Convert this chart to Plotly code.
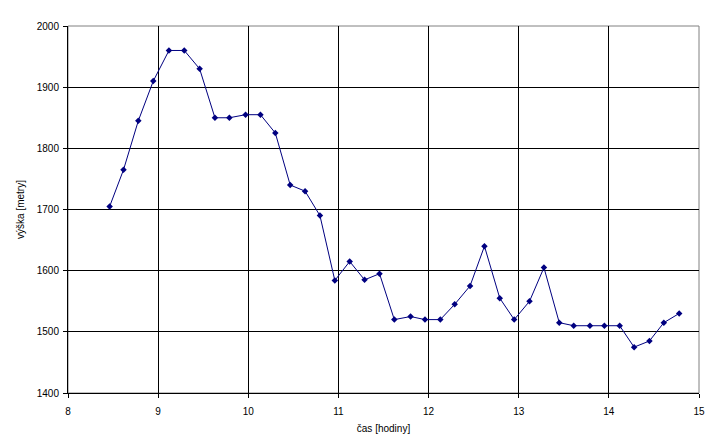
import plotly.graph_objects as go

cas = [8.462, 8.616, 8.78, 8.946, 9.12, 9.29, 9.46, 9.63, 9.79, 9.97,
       10.135, 10.3, 10.465, 10.63, 10.795, 10.96, 11.125, 11.29, 11.456, 11.62,
       11.8, 11.96, 12.13, 12.29, 12.46, 12.62, 12.79, 12.95, 13.12, 13.28,
       13.45, 13.61, 13.79, 13.95, 14.12, 14.28, 14.45, 14.61, 14.78]
vyska = [1705, 1765, 1845, 1910, 1960, 1960, 1930, 1850, 1850, 1855,
         1855, 1825, 1740, 1730, 1690, 1584, 1615, 1585, 1595, 1520,
         1525, 1520, 1520, 1545, 1575, 1640, 1555, 1520, 1550, 1605,
         1515, 1510, 1510, 1510, 1510, 1475, 1485, 1515, 1530]
x_ticks = [8, 9, 10, 11, 12, 13, 14, 15]
y_ticks = [1400, 1500, 1600, 1700, 1800, 1900, 2000]

fig = go.Figure()
fig.add_trace(go.Scatter(
    x=cas, y=vyska, mode="lines+markers",
    line=dict(color="#000080", width=1),
    marker=dict(symbol="diamond", size=5, color="#000080"),
    showlegend=False,
))

fig.update_layout(
    width=709, height=438,
    margin=dict(l=55, r=18, t=13, b=53),
    paper_bgcolor="white", plot_bgcolor="white",
    font=dict(family="Liberation Sans, Arial, sans-serif", size=10, color="black"),
    shapes=[dict(type="rect", xref="paper", yref="paper", x0=0, y0=0, x1=1, y1=1,
                 line=dict(color="#808080", width=1), layer="below")],
)
fig.update_xaxes(
    range=[8, 15], tickvals=x_ticks, ticktext=[str(t) for t in x_ticks],
    showgrid=True, gridcolor="black", gridwidth=1,
    showline=True, linecolor="black", linewidth=1,
    ticks="outside", ticklen=4, tickcolor="black",
    ticklabelstandoff=5,
    zeroline=False, automargin=True,
    title=dict(text="čas [hodiny]", font=dict(size=10), standoff=8),
)
fig.update_yaxes(
    range=[1400, 2000], tickvals=y_ticks, ticktext=[str(t) for t in y_ticks],
    showgrid=True, gridcolor="black", gridwidth=1,
    showline=True, linecolor="black", linewidth=1,
    ticks="outside", ticklen=4, tickcolor="black",
    ticklabelstandoff=2,
    zeroline=False, automargin=True,
    title=dict(text="výška [metry]", font=dict(size=10), standoff=10),
)

fig.write_html("out.html")
